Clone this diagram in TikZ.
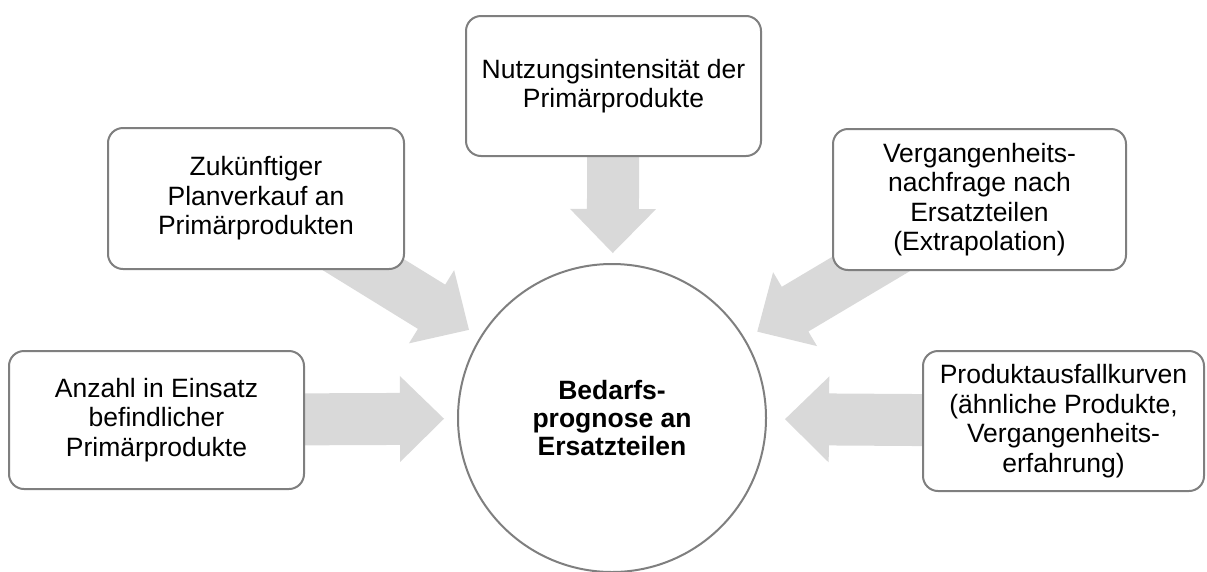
\documentclass[tikz,border=0pt]{standalone}
\usepackage{fontspec}
\setmainfont{Liberation Sans}
\usetikzlibrary{calc}
\definecolor{edgegray}{HTML}{7F7F7F}
\definecolor{arrowgray}{HTML}{D9D9D9}
\pgfdeclarelayer{arrows}
\pgfsetlayers{arrows,main}

% Broad block arrow from a box towards the central circle.
% #1 = source node, #2 = distance of the tip from the circle centre
\newcommand\feedarrow[2]{%
  \coordinate (tip) at ($(m.center)!#2!(#1.center)$);
  \coordinate (neck) at ($(tip)!44pt!(#1.center)$);
  \fill[arrowgray]
    ($(#1.center)!26pt!90:(tip)$) --
    ($(neck)!26pt!90:(tip)$) --
    ($(neck)!43pt!90:(tip)$) --
    (tip) --
    ($(neck)!43pt!-90:(tip)$) --
    ($(neck)!26pt!-90:(tip)$) --
    ($(#1.center)!26pt!-90:(tip)$) -- cycle;
}

\begin{document}
\begin{tikzpicture}[x=1pt,y=-1pt,
  infobox/.style={draw=edgegray, line width=2pt, rounded corners=15pt,
    fill=white, align=center, inner sep=0pt,
    font=\fontsize{26.5}{29.5}\selectfont},
  hub/.style={circle, draw=edgegray, line width=2pt, fill=white,
    align=center, inner sep=0pt, minimum size=308pt,
    font=\fontsize{26.5}{28}\selectfont\bfseries}]
\useasboundingbox (0,0) rectangle (1207,571);

% central circle
\node[hub] (m) at (612,418) {Bedarfs-\\prognose an\\Ersatzteilen};

% surrounding influence factors
\node[infobox, minimum width=295pt, minimum height=138pt] (a) at (156.5,420)
  {Anzahl in Einsatz\\befindlicher\\Primärprodukte};
\node[infobox, minimum width=296pt, minimum height=141pt] (b) at (256,198.5)
  {Zukünftiger\\Planverkauf an\\Primärprodukten};
\node[infobox, minimum width=295pt, minimum height=140pt] (c) at (613.5,86)
  {Nutzungsintensität der\\Primärprodukte};
\node[infobox, minimum width=293pt, minimum height=141pt] (d) at (979.5,199.5)
  {Vergangenheits-\\nachfrage nach\\Ersatzteilen\\(Extrapolation)};
\node[infobox, minimum width=281pt, minimum height=140pt] (e) at (1063.5,421)
  {Produktausfallkurven\\(ähnliche Produkte,\\Vergangenheits-\\erfahrung)};

% block arrows, drawn underneath the boxes
\begin{pgfonlayer}{arrows}
  \feedarrow{a}{168pt}
  \feedarrow{b}{168pt}
  \feedarrow{c}{165pt}
  \feedarrow{d}{169pt}
  \feedarrow{e}{173pt}
\end{pgfonlayer}
\end{tikzpicture}
\end{document}
